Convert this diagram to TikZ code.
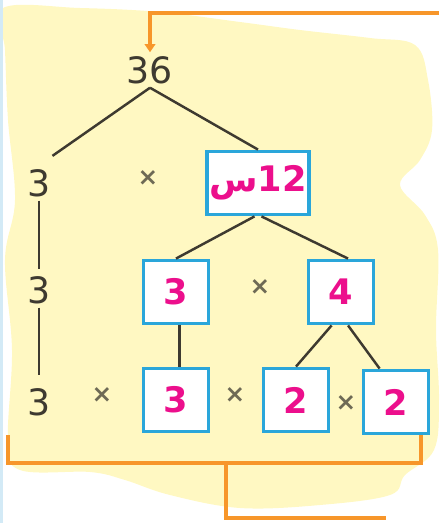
\documentclass[tikz,border=0pt]{standalone}
\usepackage{fontspec}
\setmainfont{DejaVu Sans}
\newfontfamily\arabicfont[Script=Arabic]{DejaVu Sans}
\usetikzlibrary{arrows.meta,positioning}
\definecolor{PadYellow}{HTML}{FFF8C2}
\definecolor{FrameBlue}{HTML}{2AA6DA}
\definecolor{FactorPink}{HTML}{EC0F8C}
\definecolor{StemGray}{HTML}{3E3A30}
\definecolor{TimesGray}{HTML}{6E6A55}
\definecolor{BracketOrange}{HTML}{F7962A}
\definecolor{EdgeBlue}{HTML}{D3EAF6}

\begin{document}
\begin{tikzpicture}[x=0.03cm, y=-0.03cm,
    num/.style={font=\fontsize{31}{33}\selectfont, text=StemGray, inner sep=1pt, minimum height=1.05cm},
    factor/.style={draw=FrameBlue, line width=3pt, fill=white, minimum width=1.95cm, minimum height=1.9cm, inner sep=2pt, font=\bfseries\fontsize{30}{32}\selectfont, text=FactorPink},
    times/.style={font=\bfseries\fontsize{21}{23}\selectfont, text=TimesGray},
    branch/.style={draw=StemGray, line width=2.1pt},
    brace/.style={draw=BracketOrange, line width=2.6pt}
  ]
    \useasboundingbox (0,0) rectangle (439,523);

    % Paper background
    \fill[PadYellow] plot[smooth cycle, tension=0.6] coordinates {
      (3,8) (80,8) (160,12) (240,22) (300,30) (370,38) (415,45) (428,80)
      (432,130) (420,160) (400,185) (425,215) (438,250) (436,330) (439,400)
      (434,450) (405,475) (390,495) (320,505) (240,508) (170,495) (125,480)
      (90,472) (20,470) (8,440) (12,350) (5,260) (15,200) (8,120) (5,50)};
    \fill[EdgeBlue] (0,0) rectangle (3,523);

    % Row 0
    \node[num] (top) at (150,70) {36};

    % Row 1
    \node[num] (l1) at (39,183) {3};
    \node[times] (x1) at (148,178) {×};
    \node[factor, minimum width=2.85cm] (f12) at (258,183) {{\arabicfont س}12};

    % Row 2
    \node[num] (l2) at (39,290) {3};
    \node[factor] (f3) at (176,292) {3};
    \node[times] (x2) at (260,287) {×};
    \node[factor] (f4) at (341,292) {4};

    % Row 3
    \node[num] (l3) at (39,402) {3};
    \node[times] (x3) at (102,395) {×};
    \node[factor] (g3) at (176,400) {3};
    \node[times] (x4) at (235,395) {×};
    \node[factor] (g2a) at (296,400) {2};
    \node[times] (x5) at (346,403) {×};
    \node[factor] (g2b) at (396,402) {2};

    % Branches
    \draw[branch, shorten >=14pt] (top.south) -- (l1.north);
    \draw[branch] (top.south) -- (f12.north);
    \draw[branch, shorten >=3pt] (l1.south) -- (l2.north);
    \draw[branch, shorten >=8pt] (l2.south) -- (l3.north);
    \draw[branch] ([xshift=-3pt]f12.south) -- (f3.north);
    \draw[branch] ([xshift=3pt]f12.south) -- ([xshift=6pt]f4.north);
    \draw[branch] ([xshift=3pt]f3.south) -- ([xshift=3pt]g3.north);
    \draw[branch] ([xshift=-8pt]f4.south) -- (g2a.north);
    \draw[branch] ([xshift=6pt]f4.south) -- ([xshift=-14pt]g2b.north);

    % Orange connectors
    \coordinate (feed) at (439,13);
    \coordinate (bl) at (8,435);
    \coordinate (br) at (421,435);
    \coordinate (join) at (226,463);
    \coordinate (tail) at (386,518);
    \draw[brace, -{Triangle[length=7pt,width=9pt]}] (feed) -| (top.north);
    \draw[brace] (bl) |- (join) -| (br);
    \draw[brace] (join) |- (tail);

  \end{tikzpicture}
\end{document}
